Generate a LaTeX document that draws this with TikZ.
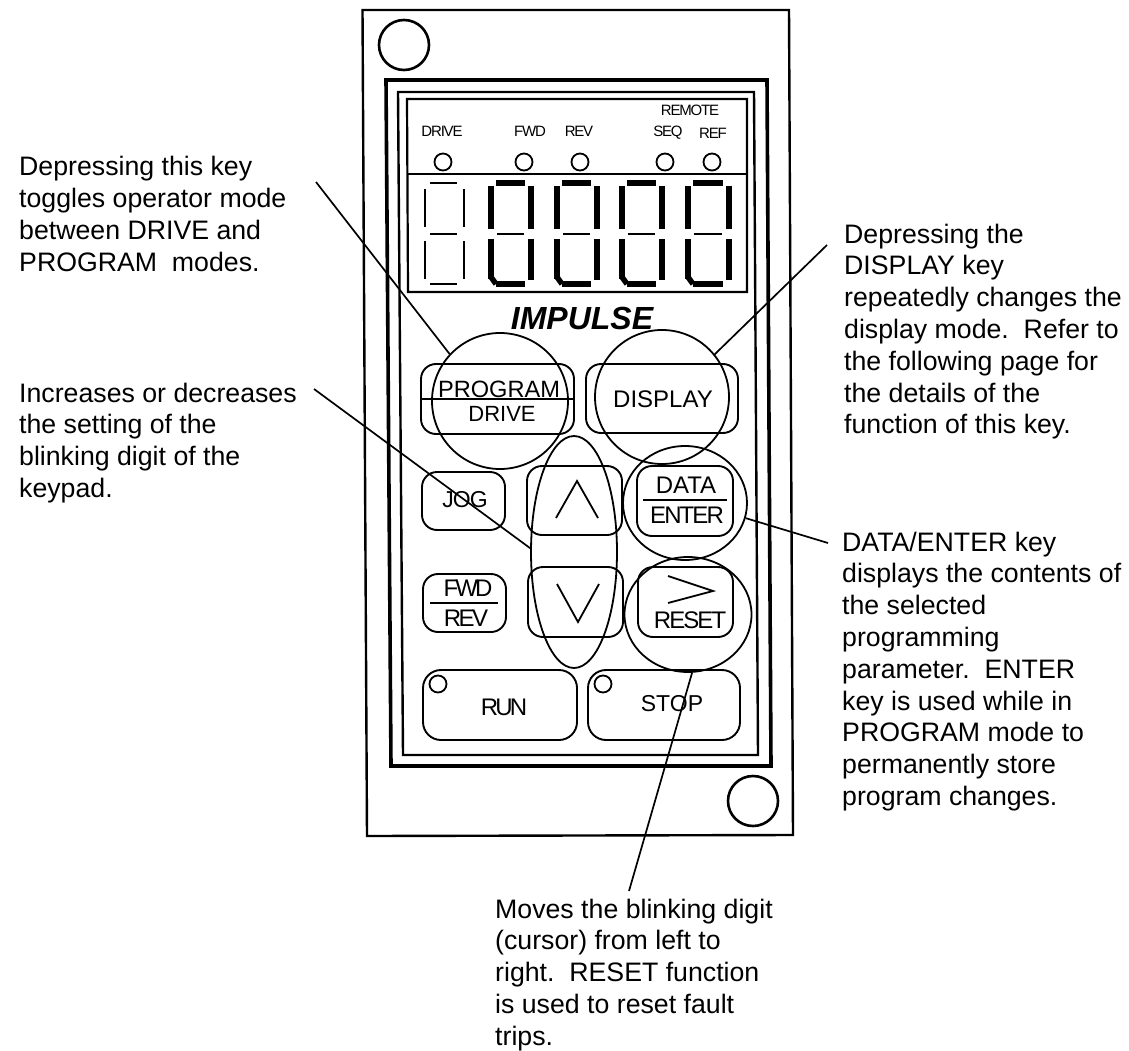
\documentclass[tikz,border=0pt]{standalone}
\usepackage{fontspec}
\setmainfont{Liberation Sans}
\usetikzlibrary{shapes.geometric}
\newcommand\lsp[1]{\addfontfeature{LetterSpace=#1}}
\newcommand\fsz[1]{\fontsize{#1}{#1}\selectfont}
\tikzset{
  x=1pt,y=-1pt,
  frameline/.style={draw=black,line width=2.4pt,line join=miter},
  keybox/.style={draw=black,line width=1.9pt,rounded corners=15pt,inner sep=0pt,fill=none},
  ring/.style={draw=black,line width=1.8pt,circle,inner sep=0pt,fill=none},
  halo/.style={draw=black,line width=1.8pt,ellipse,inner sep=0pt,fill=none},
  led/.style={draw=black,line width=1.8pt,circle,inner sep=0pt,minimum size=17pt},
  bolt/.style={draw=black,line width=2.6pt,circle,inner sep=0pt,minimum size=50pt},
  leader/.style={draw=black,line width=1.7pt},
  keytext/.style={inner sep=0pt,font=\fsz{24}},
  tiny/.style={inner sep=0pt,font=\fsz{15}\lsp{-8}},
  para/.style={anchor=base west,inner sep=0pt,font=\fontsize{26.7}{31.8}\selectfont},
  sep/.style={draw=black,line width=1.8pt},
  chev/.style={draw=black,line width=1.8pt,line join=miter},
  segthick/.style={draw=black,line width=5.5pt},
  segthin/.style={draw=black,line width=1.6pt},
}
\begin{document}
\begin{tikzpicture}
\useasboundingbox (0,0) rectangle (1129,1051);
% housing
\draw[frameline] (362.5,10) -- (789,10) -- (793,835) -- (367,836) -- cycle;
\draw[frameline,line width=3.6pt] (386,80) -- (767,80) -- (771,766) -- (391,766) -- cycle;
\draw[frameline] (398,92) -- (754,92) -- (758,755) -- (403,755) -- cycle;
\draw[frameline,line width=2.2pt] (407,99) -- (747,99) -- (747,292) -- (408,292) -- cycle;
\draw[frameline,line width=1.8pt] (408,174) -- (747,174);
\node[bolt] (boltA) at (404,45) {};
\node[bolt] (boltB) at (753,801) {};
% status LEDs
\node[led] (ledDrive) at (443,162) {};
\node[led] (ledFwd) at (524,162) {};
\node[led] (ledRev) at (580,162) {};
\node[led] (ledSeq) at (665,162) {};
\node[led] (ledRef) at (712,162) {};
\node[tiny] (tDrive) at (442,131) {DRIVE};
\node[tiny] (tFwd) at (530,131) {FWD};
\node[tiny] (tRev) at (579,131) {REV};
\node[tiny] (tRemote) at (690,110) {REMOTE};
\node[tiny] (tSeq) at (668,133) {SEQ};
\node[tiny] (tRef) at (713,133) {REF};
% digits
\foreach \l/\r in {425/464} {
  \draw[segthin] (\l+5,183) -- (\r-7,183);
  \draw[segthin] (\l,189) -- (\l,227);
  \draw[segthin] (\r,189) -- (\r,227);
  \draw[segthin] (\l+5,234) -- (\r-7,234);
  \draw[segthin] (\l,241) -- (\l,279);
  \draw[segthin] (\r,241) -- (\r,279);
  \draw[segthin] (\l+5,284) -- (\r-7,284);
}
\foreach \l/\r in {491/531,557/597,622/662,688/729} {
  \draw[segthick] (\l+5,183) -- (\r-6,183);
  \draw[segthick] (\l,186) -- (\l,229);
  \draw[segthick] (\r,186) -- (\r,229);
  \draw[segthin] (\l+6,234) -- (\r-7,234);
  \draw[segthick] (\l,239) -- (\l,279);
  \draw[segthick] (\r,239) -- (\r,280);
  \draw[segthick] (\l+5,284) -- (\r-6,284);
  \draw[segthick] (\l,277) -- (\l+5,284);
}
\node[inner sep=0pt,font=\fsz{32}\bfseries\itshape] (brand) at (582,318) {IMPULSE};
% keys
\node[keybox,minimum width=153pt,minimum height=70pt] (kProg) at (497.5,399) {};
\draw[sep] (kProg.west) -- (kProg.east);
\node[keytext,font=\fsz{23.6}] (tProg) at (499,389) {PROGRAM};
\node[keytext,font=\fsz{22}] (tDrv) at (502,414) {DRIVE};
\node[keybox,minimum width=152pt,minimum height=69pt] (kDisp) at (662,398.5) {};
\node[keytext] (tDisp) at (663,399) {DISPLAY};
\node[keybox,minimum width=83pt,minimum height=58pt] (kJog) at (463.5,501) {};
\node[keytext,font=\fsz{23}\lsp{-4}] (tJog) at (465,500) {JOG};
\node[keybox,minimum width=95pt,minimum height=69pt] (kUp) at (574.5,500.5) {};
\node[keybox,minimum width=95pt,minimum height=70pt] (kDown) at (575.5,602) {};
\draw[chev] (556,518) -- (577,481) -- (598,518);
\draw[chev] (557,584) -- (578,622) -- (599,584);
\node[keybox,minimum width=96pt,minimum height=70pt] (kData) at (685,501) {};
\draw[sep] (643,500) -- (727,500);
\node[keytext] (tData) at (686,485) {DATA};
\node[keytext,font=\fsz{24}\lsp{-8}] (tEnter) at (687,515) {ENTER};
\node[keybox,minimum width=83pt,minimum height=58pt] (kFwd) at (464.5,603) {};
\draw[sep] (430,603) -- (498,603);
\node[keytext,font=\fsz{24}\lsp{-12}] (tF) at (468,588) {FWD};
\node[keytext,font=\fsz{24}\lsp{-11}] (tR) at (466,618) {REV};
\node[keybox,minimum width=95pt,minimum height=70pt] (kReset) at (685.5,602) {};
\draw[chev] (668,576) -- (713,591) -- (668,603);
\node[keytext,font=\fsz{24}\lsp{-8}] (tReset) at (690,620) {RESET};
\node[keybox,rounded corners=18pt,minimum width=154pt,minimum height=70pt] (kRun) at (500,705) {};
\node[led] (ledRun) at (438,684) {};
\node[keytext,font=\fsz{24}\lsp{-12}] (tRun) at (504,707) {RUN};
\node[keybox,rounded corners=18pt,minimum width=152pt,minimum height=70pt] (kStop) at (664,705) {};
\node[led] (ledStop) at (603,684) {};
\node[keytext,font=\fsz{23}] (tStop) at (672,704) {STOP};
% highlight rings
\node[ring,minimum size=136pt] (rProg) at (500,401) {};
\node[ring,minimum size=134pt] (rDisp) at (662,397) {};
\node[halo,minimum width=86pt,minimum height=232pt] (rArrow) at (574,552) {};
\node[halo,minimum width=124pt,minimum height=114pt] (rData) at (685,503) {};
\node[halo,minimum width=127pt,minimum height=115pt] (rReset) at (688,614.5) {};
% leaders
\coordinate (sProg) at (316,182);
\coordinate (sArrow) at (314,389);
\coordinate (sDisp) at (827,245);
\coordinate (sData) at (828,543);
\coordinate (sReset) at (629,891);
\draw[leader] (sProg) -- (rProg.137);
\draw[leader] (sDisp) -- (rDisp.39);
\draw[leader] (sArrow) -- (rArrow.175);
\draw[leader] (sData) -- (rData.-14);
\draw[leader] (sReset) -- (rReset.-86);
% notes
\node[para] (noteProg) at (19,176) {\begin{tabular}[t]{@{}l@{}}Depressing this key\\toggles operator mode\\between DRIVE and\\PROGRAM\ \ modes.\end{tabular}};
\node[para] (noteArrow) at (19,402) {\begin{tabular}[t]{@{}l@{}}Increases or decreases\\the setting of the\\blinking digit of the\\keypad.\end{tabular}};
\node[para] (noteDisp) at (844,243) {\begin{tabular}[t]{@{}l@{}}Depressing the\\DISPLAY key\\repeatedly changes the\\display mode.\ \ Refer to\\the following page for\\the details of the\\function of this key.\end{tabular}};
\node[para] (noteData) at (842,551) {\begin{tabular}[t]{@{}l@{}}DATA/ENTER key\\displays the contents of\\the selected\\programming\\parameter.\ \ ENTER\\key is used while in\\PROGRAM mode to\\permanently store\\program changes.\end{tabular}};
\node[para] (noteReset) at (495,918) {\begin{tabular}[t]{@{}l@{}}Moves the blinking digit\\(cursor) from left to\\right.\ \ RESET function\\is used to reset fault\\trips.\end{tabular}};
\end{tikzpicture}
\end{document}
